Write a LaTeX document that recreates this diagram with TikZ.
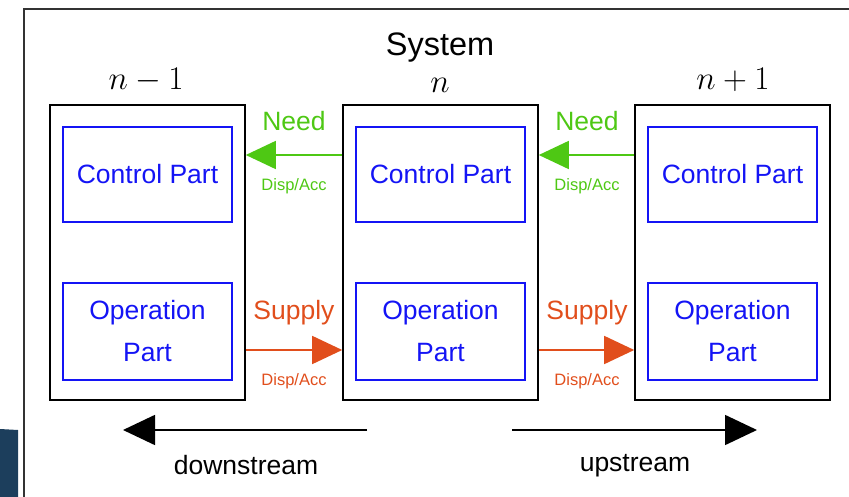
\documentclass[tikz,border=0pt]{standalone}
\usepackage{fontspec}
\setmainfont{Liberation Sans}
\usetikzlibrary{arrows.meta}
\definecolor{needgreen}{RGB}{78,200,20}
\definecolor{supplyorange}{RGB}{225,78,28}
\definecolor{partblue}{RGB}{20,20,245}
\definecolor{navy}{RGB}{28,62,92}
\begin{document}
\begin{tikzpicture}[x=1pt,y=-1pt,
  colbox/.style={draw=black,line width=1.6pt,minimum width=195pt,minimum height=295pt,inner sep=0pt},
  partbox/.style={draw=partblue,line width=1.6pt,minimum width=169pt,inner sep=0pt,text=partblue,
    font=\fontsize{26.5}{42}\selectfont,align=center},
  lbl/.style={inner sep=0pt,font=\fontsize{26.5}{32}\selectfont},
  small/.style={inner sep=0pt,font=\fontsize{16.5}{20}\selectfont},
  mathlbl/.style={inner sep=0pt,font=\fontsize{24.88}{30}\selectfont},
  needarrow/.style={draw=needgreen,line width=1.6pt,-{Triangle[length=30pt,width=28pt]}},
  supplyarrow/.style={draw=supplyorange,line width=1.6pt,-{Triangle[length=30pt,width=28pt]}},
  flowarrow/.style={draw=black,line width=1.6pt,-{Triangle[length=32pt,width=30pt]}}]
\useasboundingbox (0,0) rectangle (849,497);
% page remnants
\fill[navy] (0,429) -- (18,430) -- (18,497) -- (0,497) -- cycle;
\draw[line width=2pt,black!80] (24,497) -- (24,9) -- (849,9);
% title
\node[inner sep=0pt,font=\fontsize{32.5}{38}\selectfont] (sys) at (440,48) {System};
% columns
\foreach \i/\x in {1/147.5,2/440.5,3/732.5}{
  \node[colbox] (col\i) at (\x,252.5) {};
  \node[partbox,minimum height=95pt] (ctl\i) at (\x,174.5) {Control Part};
  \node[partbox,minimum height=97pt] (op\i) at (\x,331.5) {Operation\\Part};
}
\node[mathlbl] (l1) at (146,80) {\scalebox{1.33}{$n-1$}};
\node[mathlbl] (l2) at (440,85) {\scalebox{1.33}{$n$}};
\node[mathlbl] (l3) at (733,80) {\scalebox{1.33}{$n+1$}};
% need / supply
\coordinate (gy) at (0,155);
\coordinate (oy) at (0,350);
\draw[needarrow] (col2.west |- gy) -- (col1.east |- gy);
\draw[needarrow] (col3.west |- gy) -- (col2.east |- gy);
\draw[supplyarrow] (col1.east |- oy) -- (col2.west |- oy);
\draw[supplyarrow] (col2.east |- oy) -- (col3.west |- oy);
\foreach \x/\k in {294/a,587/b}{
  \node[lbl,text=needgreen] (need\k) at (\x,121) {Need};
  \node[small,text=needgreen] (nda\k) at (\x,186) {Disp/Acc};
  \node[lbl,text=supplyorange] (sup\k) at (\x,313) {Supply};
  \node[small,text=supplyorange] (sda\k) at (\x,381) {Disp/Acc};
}
% flow directions
\coordinate (ds) at (367,430);
\coordinate (de) at (123,430);
\coordinate (us) at (512,430);
\coordinate (ue) at (757,430);
\draw[flowarrow] (ds) -- (de);
\draw[flowarrow] (us) -- (ue);
\node[lbl] (down) at (246,465) {downstream};
\node[lbl] (up) at (635,466) {upstream};
\end{tikzpicture}
\end{document}
